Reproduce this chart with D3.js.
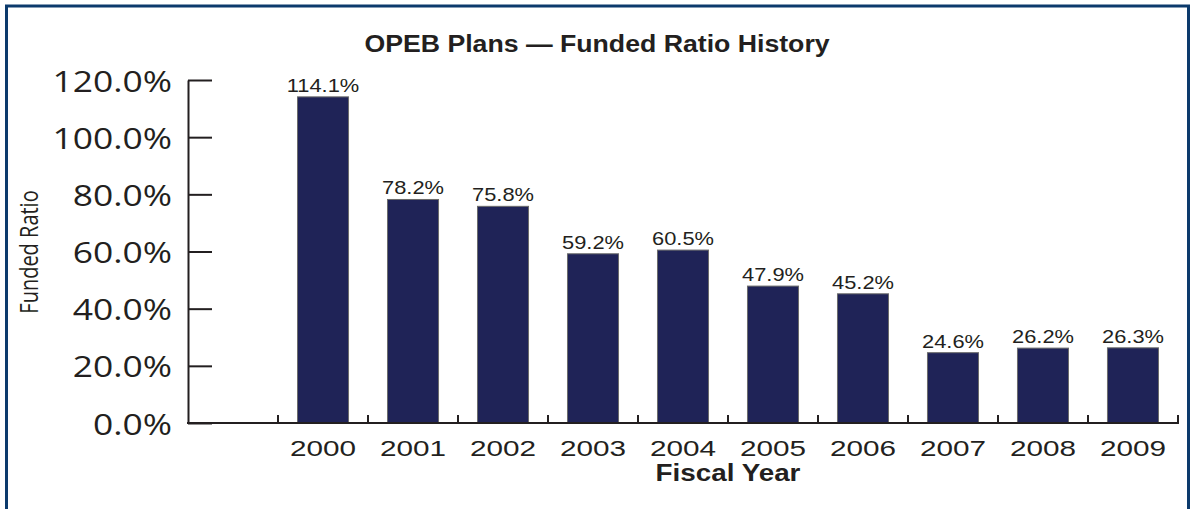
<!DOCTYPE html>
<html>
<head>
<meta charset="utf-8">
<script src="https://cdn.jsdelivr.net/npm/d3@7"></script>
<style>
  html, body { margin: 0; padding: 0; background: #ffffff; }
  svg { display: block; }
</style>
</head>
<body>
<svg id="chart" width="1191" height="509"></svg>
<script>
// Fiscal years and funded ratios (percent)
const years = ["2000", "2001", "2002", "2003", "2004", "2005", "2006", "2007", "2008", "2009"];
const fundedRatio = [114.1, 78.2, 75.8, 59.2, 60.5, 47.9, 45.2, 24.6, 26.2, 26.3];
const yTicks = [0, 20, 40, 60, 80, 100, 120];

const titleText = "OPEB Plans \u2014 Funded Ratio History";
const xTitle = "Fiscal Year";
const yTitle = "Funded Ratio";

const ink = "#231f20";
const barFill = "#1f2357";
const frameBlue = "#0c3a6c";
const SX = 1.2; // horizontal stretch of the lettering

const svg = d3.select("#chart");

// frame (open at the bottom)
svg.append("path")
  .attr("d", "M6.5,509 V6 H1188.5 V509")
  .attr("fill", "none")
  .attr("stroke", frameBlue)
  .attr("stroke-width", 3);

const axisLeftX = 188;
const plotTop = 80, plotBottom = 423;

const x = d3.scaleBand()
  .domain(years)
  .range([278, 1178])
  .paddingInner(0.433)
  .paddingOuter(0.2167);

const y = d3.scaleLinear().domain([0, 120]).range([plotBottom, plotTop]);

// title
svg.append("text")
  .attr("transform", `translate(597,52) scale(${1.16},1)`)
  .attr("text-anchor", "middle")
  .attr("font-family", "Liberation Sans, Arial, sans-serif")
  .attr("font-weight", "bold")
  .attr("font-size", 23)
  .attr("fill", ink)
  .text(titleText);

// bars
svg.append("g").selectAll("rect")
  .data(years)
  .join("rect")
  .attr("x", d => x(d))
  .attr("y", (d, i) => y(fundedRatio[i]))
  .attr("width", x.bandwidth())
  .attr("height", (d, i) => y(0) - y(fundedRatio[i]))
  .attr("fill", barFill)
  .attr("stroke", "#6b6b6b")
  .attr("stroke-width", 1);

// value labels
svg.append("g").selectAll("text")
  .data(years)
  .join("text")
  .attr("transform", (d, i) => `translate(${x(d) + x.bandwidth() / 2},${y(fundedRatio[i]) - 5}) scale(1.25,1)`)
  .attr("text-anchor", "middle")
  .attr("font-family", "Liberation Sans, Arial, sans-serif")
  .attr("font-size", 17.5)
  .attr("fill", ink)
  .text((d, i) => fundedRatio[i].toFixed(1) + "%");

// y axis
const yAxis = svg.append("g")
  .attr("transform", `translate(${axisLeftX},0)`)
  .call(d3.axisLeft(y).tickValues(yTicks).tickSizeInner(-24).tickSizeOuter(0)
    .tickFormat(d => d.toFixed(1) + "%"));
yAxis.select(".domain").attr("stroke", ink).attr("stroke-width", 2);
yAxis.selectAll(".tick line").attr("stroke", ink).attr("stroke-width", 2);
yAxis.selectAll(".tick text")
  .attr("x", null).attr("dy", null)
  .attr("transform", `translate(-16,11) scale(1.18,1)`)
  .attr("text-anchor", "end")
  .attr("font-family", "Open Sans, Noto Sans, sans-serif")
  .attr("font-size", 30)
  .attr("fill", ink);

// x axis: baseline from the y axis to the last slot, ticks at slot boundaries
const step = x.step();
const gap = step - x.bandwidth();
const bounds = years.map(d => x(d) - gap / 2).concat([x(years[years.length - 1]) + x.bandwidth() + gap / 2]);

const xAxis = svg.append("g");
xAxis.append("line")
  .attr("x1", axisLeftX - 1).attr("x2", bounds[bounds.length - 1] + 1)
  .attr("y1", plotBottom).attr("y2", plotBottom)
  .attr("stroke", ink).attr("stroke-width", 2);
xAxis.selectAll("line.tk")
  .data(bounds)
  .join("line")
  .attr("class", "tk")
  .attr("x1", d => d).attr("x2", d => d)
  .attr("y1", plotBottom).attr("y2", plotBottom - 8)
  .attr("stroke", ink).attr("stroke-width", 2);

xAxis.selectAll("text")
  .data(years)
  .join("text")
  .attr("transform", d => `translate(${x(d) + x.bandwidth() / 2},456) scale(1.35,1)`)
  .attr("text-anchor", "middle")
  .attr("font-family", "Liberation Sans, Arial, sans-serif")
  .attr("font-size", 22)
  .attr("fill", ink)
  .text(d => d);

// axis titles
svg.append("text")
  .attr("transform", `translate(${(bounds[0] + bounds[bounds.length - 1]) / 2},481) scale(1.21,1)`)
  .attr("text-anchor", "middle")
  .attr("font-family", "Liberation Sans, Arial, sans-serif")
  .attr("font-weight", "bold")
  .attr("font-size", 23)
  .attr("fill", ink)
  .text(xTitle);

svg.append("text")
  .attr("transform", `translate(38,252) scale(1.3,1) rotate(-90)`)
  .attr("text-anchor", "middle")
  .attr("font-family", "Open Sans, Noto Sans, sans-serif")
  .attr("font-size", 20)
  .attr("fill", ink)
  .text(yTitle);
</script>
</body>
</html>
